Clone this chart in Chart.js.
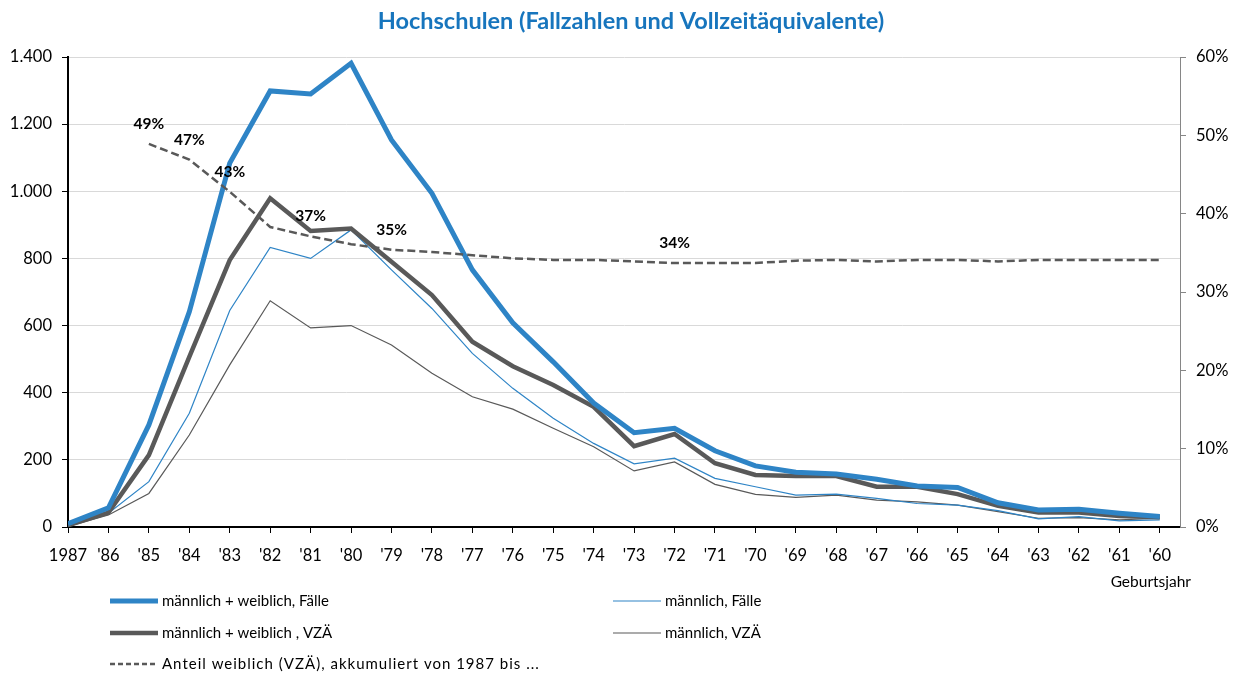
<!DOCTYPE html>
<html lang="de">
<head>
  <meta charset="UTF-8">
  <title>Hochschulen (Fallzahlen und Vollzeitäquivalente)</title>
  <script src="https://cdn.jsdelivr.net/npm/chart.js"></script>
  <style>
    html, body { margin: 0; padding: 0; background: #fff; }
    .wrap { width: 1244px; height: 675px; position: relative; }
  </style>
</head>
<body>
  <div class="wrap">
    <canvas id="hochschulen" width="1244" height="675"></canvas>
  </div>

  <script>
    // Geburtsjahre (x-Achse)
    const jahre = ['1987', "'86", "'85", "'84", "'83", "'82", "'81", "'80", "'79", "'78", "'77", "'76", "'75", "'74",
                   "'73", "'72", "'71", "'70", "'69", "'68", "'67", "'66", "'65", "'64", "'63", "'62", "'61", "'60"];

    // Fallzahlen / VZÄ
    const mwFaelle = [10, 57, 304, 641, 1084, 1299, 1290, 1381, 1153, 994, 766, 608, 492, 369,
                      281, 294, 227, 182, 163, 158, 142, 122, 118, 72, 51, 53, 41, 31];
    const mFaelle  = [3, 41, 135, 339, 645, 833, 800, 885, 766, 651, 517, 413, 324, 249,
                      188, 205, 145, 120, 95, 98, 85, 70, 65, 49, 24, 31, 18, 21];
    const mwVZAE   = [5, 43, 214, 507, 795, 979, 882, 889, 790, 691, 552, 479, 423, 358,
                      241, 277, 190, 155, 152, 152, 120, 120, 98, 63, 43, 43, 33, 29];
    const mVZAE    = [2, 36, 100, 274, 483, 674, 593, 600, 542, 458, 388, 351, 294, 239,
                      167, 194, 127, 97, 88, 95, 80, 75, 65, 46, 26, 28, 21, 26];

    // Anteil weiblich (VZÄ), akkumuliert, in %
    const anteilWeiblich = [null, null, 48.9, 46.9, 42.8, 38.3, 37.1, 36.1, 35.4, 35.1, 34.7, 34.3, 34.1, 34.1,
                            33.9, 33.7, 33.7, 33.7, 34.0, 34.1, 33.9, 34.1, 34.1, 33.9, 34.1, 34.1, 34.1, 34.1];
    const anteilBeschriftet = [2, 3, 4, 6, 8, 15];

    const blau = '#2e84c6';
    const grau = '#595959';
    const schrift = 'Lato, "Open Sans", sans-serif';

    const punkte = arr => arr.map((y, i) => ({ x: i, y: y }));
    const tausender = v => String(v).replace(/\B(?=(\d{3})+(?!\d))/g, '.');

    const datasets = [
      { label: 'Anteil weiblich (VZÄ), akkumuliert von 1987 bis ...', data: punkte(anteilWeiblich), yAxisID: 'y1',
        borderColor: grau, borderWidth: 2.5, borderDash: [8, 4], spanGaps: false },
      { label: 'männlich + weiblich, Fälle', data: punkte(mwFaelle), yAxisID: 'y', borderColor: blau, borderWidth: 5 },
      { label: 'männlich + weiblich , VZÄ', data: punkte(mwVZAE), yAxisID: 'y', borderColor: grau, borderWidth: 4.5 },
      { label: 'männlich, Fälle', data: punkte(mFaelle), yAxisID: 'y', borderColor: blau, borderWidth: 1.2 },
      { label: 'männlich, VZÄ', data: punkte(mVZAE), yAxisID: 'y', borderColor: grau, borderWidth: 1.2 }
    ];

    // Legende: [Datensatz, Spalte, Zeile]
    const legendeLayout = [[1, 0, 0], [3, 1, 0], [2, 0, 1], [4, 1, 1], [0, 0, 2]];

    const extras = {
      id: 'extras',
      afterDraw(chart) {
        const ctx = chart.ctx;
        ctx.save();

        // Titel
        ctx.fillStyle = '#1775bd';
        ctx.font = 'bold 23.5px ' + schrift;
        ctx.textAlign = 'center';
        ctx.textBaseline = 'middle';
        ctx.fillText('Hochschulen (Fallzahlen und Vollzeitäquivalente)', 631, 21);

        // Prozent-Beschriftungen
        const meta = chart.getDatasetMeta(0);
        ctx.fillStyle = '#000';
        ctx.font = 'bold 15.5px ' + schrift;
        anteilBeschriftet.forEach(i => {
          const p = meta.data[i];
          ctx.fillText(Math.round(anteilWeiblich[i]) + '%', p.x, p.y - 20);
        });

        // Achsentitel
        ctx.font = '15.5px ' + schrift;
        ctx.textAlign = 'right';
        ctx.fillText('Geburtsjahr', 1191, 582);

        // Legende
        const spaltenX = [110, 613];
        const zeilenY = [601, 633, 664];
        ctx.textAlign = 'left';
        ctx.font = '15px ' + schrift;
        legendeLayout.forEach(([di, sp, ze]) => {
          const ds = chart.data.datasets[di];
          const x = spaltenX[sp], y = zeilenY[ze];
          ctx.beginPath();
          ctx.strokeStyle = ds.borderColor;
          ctx.lineWidth = ds.borderWidth;
          ctx.setLineDash(ds.borderDash ? [5, 3] : []);
          ctx.moveTo(x, y);
          ctx.lineTo(x + 48, y);
          ctx.stroke();
          ctx.setLineDash([]);
          ctx.fillStyle = '#000';
          ctx.letterSpacing = ds.borderDash ? '1px' : '0px';
          ctx.fillText(ds.label, x + 52, y);
        });
        ctx.restore();
      }
    };

    new Chart(document.getElementById('hochschulen'), {
      type: 'line',
      data: { datasets: datasets },
      plugins: [extras],
      options: {
        responsive: false,
        animation: false,
        layout: { padding: { top: 57, left: 0, right: 0, bottom: 0 } },
        elements: { point: { radius: 0 }, line: { tension: 0 } },
        plugins: { legend: { display: false }, title: { display: false }, tooltip: { enabled: false } },
        scales: {
          x: {
            type: 'linear', min: 0, max: 27.5,
            afterFit: s => { s.height = 148; },
            border: { color: '#000', width: 2 },
            grid: { drawOnChartArea: false, tickLength: 6, tickColor: '#000' },
            ticks: {
              stepSize: 1, autoSkip: false, includeBounds: false, maxRotation: 0, maxTicksLimit: 40, padding: 13,
              color: '#000', font: { family: schrift, size: 16.5 },
              callback: v => jahre[v] !== undefined ? jahre[v] : ''
            }
          },
          y: {
            position: 'left', min: 0, max: 1400,
            afterFit: s => { s.width = 68; },
            border: { color: '#000', width: 2 },
            grid: { color: '#d9d9d9', tickLength: 6, tickColor: '#000' },
            ticks: { stepSize: 200, padding: 10, color: '#000', font: { family: schrift, size: 16.5 }, callback: v => tausender(v) }
          },
          y1: {
            position: 'right', min: 0, max: 60,
            afterFit: s => { s.width = 64; },
            border: { color: '#868686', width: 1 },
            grid: { drawOnChartArea: false, tickLength: 6, tickColor: '#868686' },
            ticks: { stepSize: 10, padding: 10, color: '#000', font: { family: schrift, size: 16.5 }, callback: v => v + '%' }
          }
        }
      }
    });
  </script>
</body>
</html>
